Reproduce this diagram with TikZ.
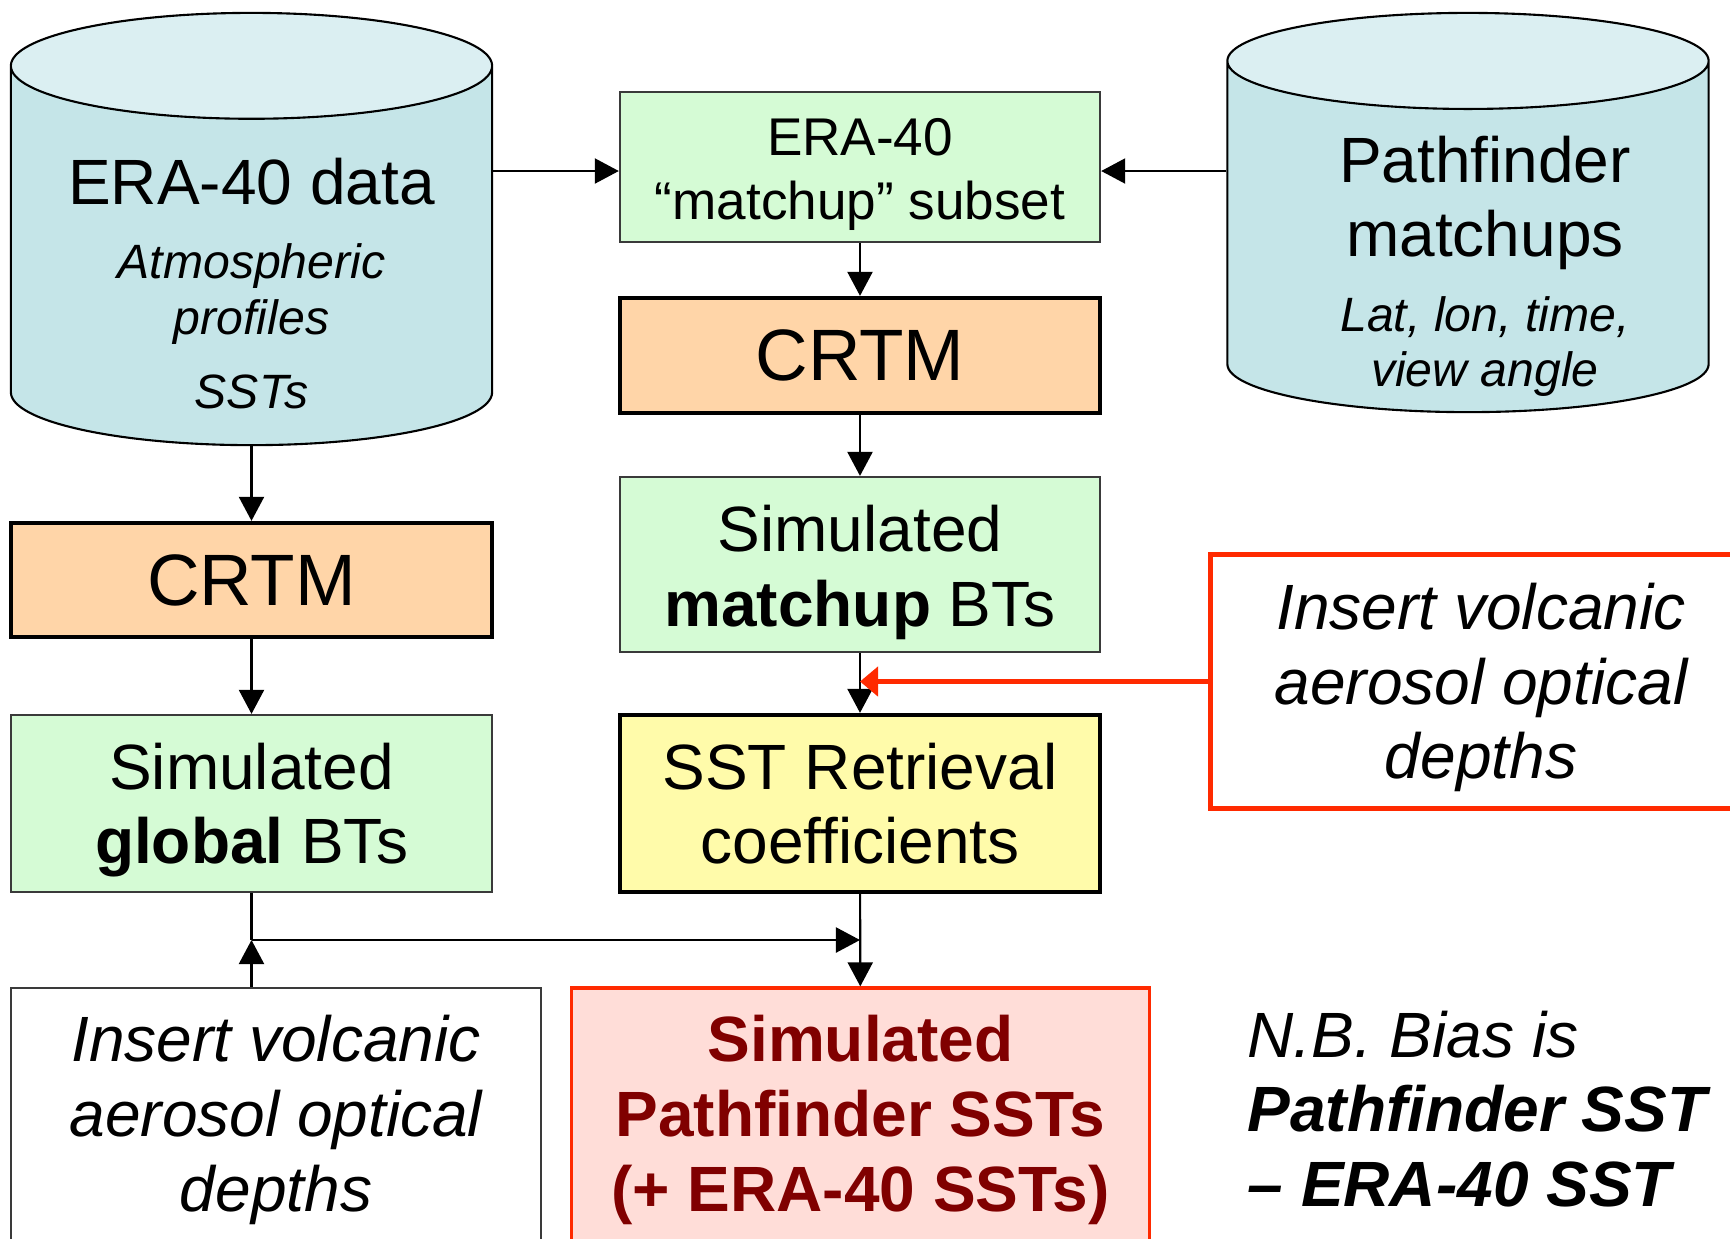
\documentclass[tikz,border=0pt]{standalone}
\usepackage{fontspec}
\setmainfont{Liberation Sans}
\usepackage{xcolor}
\usetikzlibrary{shapes.geometric,arrows.meta,positioning}

\definecolor{dbside}{HTML}{C5E5E8}
\definecolor{dbtop}{HTML}{DBEFF2}
\definecolor{greenfill}{HTML}{D5FBD5}
\definecolor{peach}{HTML}{FFD5A8}
\definecolor{paleyellow}{HTML}{FFFBAA}
\definecolor{alertred}{HTML}{FF2A00}
\definecolor{pinkfill}{HTML}{FFDDD8}
\definecolor{darkred}{HTML}{800000}
\definecolor{edgegray}{HTML}{3A3A3A}

\newcommand{\boxfont}{\fontsize{18.2}{21.3}\selectfont}
\newcommand{\crtmfont}{\fontsize{20.7}{24}\selectfont}
\newcommand{\subsetfont}{\fontsize{15.1}{18.2}\selectfont}
\newcommand{\smallitfont}{\fontsize{13.7}{16}\selectfont\itshape}

\begin{document}
\begin{tikzpicture}[x=0.01cm, y=-0.01cm,
    db/.style={cylinder, shape border rotate=90, aspect=0.22, draw, line width=0.6pt, inner sep=0pt,
        anchor=shape center, cylinder uses custom fill, cylinder body fill=dbside,
        cylinder end fill=dbtop, minimum width=4.81cm, minimum height=4.32cm},
    box/.style={rectangle, draw=edgegray, line width=0.6pt, fill=greenfill, align=center,
        minimum width=4.8cm, minimum height=1.76cm, text depth=0pt, font=\boxfont},
    crtm/.style={rectangle, draw, line width=1.2pt, fill=peach, minimum width=4.8cm,
        minimum height=1.15cm, font=\crtmfont},
    flow/.style={-{Triangle[length=0.24cm,width=0.25cm]}, line width=0.6pt},
    redflow/.style={-{Triangle[length=0.18cm,width=0.29cm]}, line width=1.4pt, draw=alertred}]

    \useasboundingbox (0,0) rectangle (1730,1238);

    % data sources
    \node[db] (era) at (251.5,229) {\rule{4.81cm}{0pt}};
    \node[db, aspect=0.20, minimum height=3.99cm] (pathdb) at (1468,212.5) {\rule{4.8cm}{0pt}};

    \node[anchor=base, font=\boxfont] (eratitle) at (251.5,204) {ERA-40 data};
    \node[anchor=base, font=\smallitfont] (eraatm) at (251.5,278) {Atmospheric};
    \node[anchor=base, font=\smallitfont] (eraprof) at (251.5,334) {profiles};
    \node[anchor=base, font=\smallitfont] (erasst) at (251.5,408) {SSTs};

    \node[anchor=base, font=\boxfont] (pftitle) at (1485,182) {Pathfinder};
    \node[anchor=base, font=\boxfont] (pftitleb) at (1485,256) {matchups};
    \node[anchor=base, font=\smallitfont] (pfvars) at (1485,331) {Lat, lon, time,};
    \node[anchor=base, font=\smallitfont] (pfvarsb) at (1485,386) {view angle};

    % matchup branch
    \node[box, text height=1.05cm, minimum height=1.5cm, font=\subsetfont] (subset) at (860,167) {ERA-40\\“matchup” subset};
    \node[crtm] (crtmb) at (860,355.5) {CRTM};
    \node[box, text height=1.244cm, minimum height=1.75cm] (simmatch) at (860,564.5) {Simulated\\\textbf{matchup} BTs};
    \node[box, text height=1.208cm, draw=black, line width=1.2pt, fill=paleyellow, minimum height=1.77cm] (coeffs) at (860,803.5) {SST Retrieval\\coefficients};

    % global branch
    \node[crtm, minimum width=4.81cm, minimum height=1.14cm] (crtma) at (251.5,580) {CRTM};
    \node[box, text height=1.208cm, minimum width=4.81cm, minimum height=1.77cm] (simglobal) at (251.5,803.5) {Simulated\\\textbf{global} BTs};

    % aerosol inputs and result
    \node[box, text height=1.948cm, draw=alertred, line width=1.4pt, fill=white, minimum width=5.4cm, minimum height=2.53cm,
        font=\boxfont\itshape] (aerosolr) at (1481,681.5) {Insert volcanic\\aerosol optical\\depths};
    \node[box, text height=1.848cm, fill=white, minimum width=5.3cm, minimum height=2.62cm,
        font=\boxfont\itshape] (aerosoll) at (276,1119) {Insert volcanic\\aerosol optical\\depths};
    \node[box, text height=1.848cm, draw=alertred, line width=0.9pt, fill=pinkfill, text=darkred, minimum width=5.77cm,
        minimum height=2.62cm, font=\boxfont\bfseries] (result) at (860.5,1119) {Simulated\\Pathfinder SSTs\\(+ ERA-40 SSTs)};
    \node[anchor=west, align=left, inner sep=0pt, font=\boxfont\itshape] (note) at (1247,1109)
        {N.B. Bias is\\\textbf{Pathfinder SST}\\\textbf{– ERA-40 SST}};

    \coordinate (join) at (251.5,940);

    \draw[flow] ([yshift=-0.04cm]era.east |- subset.west) -- ([yshift=-0.04cm]subset.west);
    \draw[flow] ([yshift=-0.04cm]pathdb.west |- subset.east) -- ([yshift=-0.04cm]subset.east);
    \draw[flow] (subset) -- (crtmb);
    \draw[flow] (crtmb) -- (simmatch);
    \draw[flow] (simmatch) -- (coeffs);
    \draw[redflow] (aerosolr.west) -- (aerosolr.west -| coeffs.north);
    \draw[flow] (era.south) -- (crtma);
    \draw[flow] (crtma) -- (simglobal);
    \draw[line width=0.6pt] (simglobal) -- (join);
    \draw[flow] (join |- aerosoll.north) -- (join);
    \draw[flow] (join) -- (join -| coeffs.south);
    \draw[flow] (coeffs) -- (result);

\end{tikzpicture}
\end{document}
